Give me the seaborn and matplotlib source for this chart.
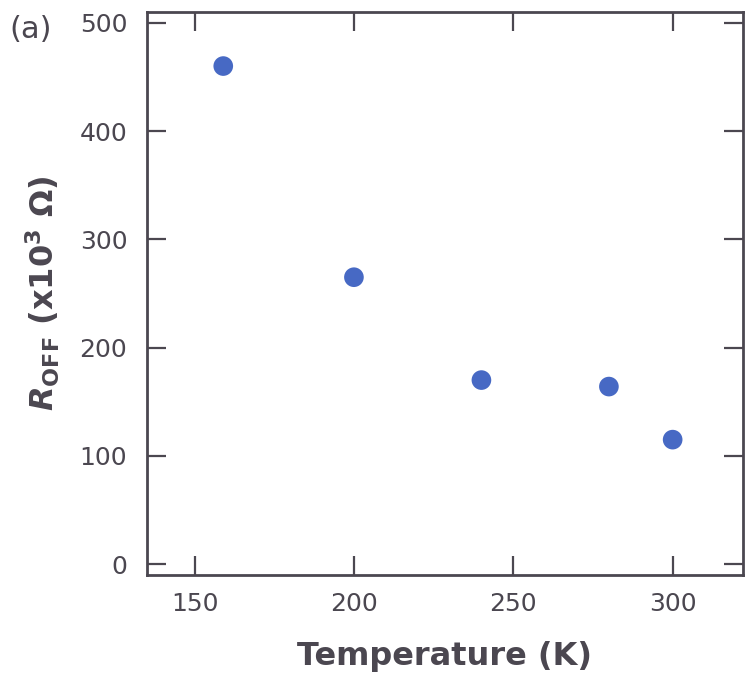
import matplotlib
matplotlib.use("Agg")
import matplotlib.pyplot as plt
import seaborn as sns
import pandas as pd

# Off-state resistance versus temperature
temperature = [159, 200, 240, 280, 300]
r_off = [460, 265, 170, 164, 115]
x_ticks = [150, 200, 250, 300]
y_ticks = [0, 100, 200, 300, 400, 500]

df = pd.DataFrame({"T": temperature, "R": r_off})

sns.set_style("ticks")
plt.rcParams["font.family"] = ["DejaVu Sans"]
plt.rcParams["mathtext.fontset"] = "dejavusans"

ink = "#4b4750"
fig = plt.figure(figsize=(7.45, 6.85), dpi=100)
ax = fig.add_axes([0.197, 0.1606, 0.8, 0.822])

sns.scatterplot(data=df, x="T", y="R", ax=ax, color="#4769c4", s=200,
                edgecolor="none", legend=False)

ax.set_xlim(135, 322)
ax.set_ylim(-10, 510)
ax.set_xticks(x_ticks)
ax.set_yticks(y_ticks)

for side in ["left", "right", "top", "bottom"]:
    ax.spines[side].set_visible(True)
    ax.spines[side].set_linewidth(2)
    ax.spines[side].set_color(ink)

ax.tick_params(direction="in", length=14, width=1.6, color=ink,
               top=True, right=True, labelsize=18, labelcolor=ink)
ax.tick_params(axis="x", pad=12)
ax.tick_params(axis="y", pad=14)

ax.set_xlabel("Temperature (K)", fontsize=23, fontweight="bold", color=ink,
              labelpad=18)
ax.set_ylabel(r"$\mathbfit{R}_{\mathbf{OFF}}$ (x10$^{\mathbf{3}}$ $\mathbf{\Omega}$)",
              fontsize=23, fontweight="bold", color=ink, labelpad=13)

fig.text(0.012, 0.957, "(a)", fontsize=22, color=ink, ha="left", va="center")

fig.savefig("out.png", dpi=100, facecolor="white")
